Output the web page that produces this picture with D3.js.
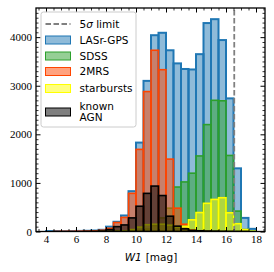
<!DOCTYPE html>
<html>
<head>
<meta charset="utf-8">
<script src="https://cdn.jsdelivr.net/npm/d3@7"></script>
<style>
  body { margin: 0; background: #fff; }
  .tick text { font-family: "Liberation Serif", serif; font-size: 11px; fill: #000; }
  .tick line { stroke: #000; }
</style>
</head>
<body>
<svg id="chart" width="274" height="272"></svg>
<script>
// === Data: W1 magnitude histograms (counts per 0.5 mag bin) ===
const binStarts = [4.0, 4.5, 5.0, 5.5, 6.0, 6.5, 7.0, 7.5, 8.0, 8.5, 9.0, 9.5, 10.0, 10.5,
                   11.0, 11.5, 12.0, 12.5, 13.0, 13.5, 14.0, 14.5, 15.0, 15.5, 16.0, 16.5, 17.0, 17.5];
const binWidth = 0.5;

const lasrGps   = [8, 10, 8, 10, 12, 15, 20, 35, 100, 200, 330, 830, 1830, 3100,
                   4040, 4090, 3730, 3460, 3345, 3335, 3650, 4290, 4370, 3940, 2740, 1300, 280, 55];
const sdss      = [0, 0, 0, 0, 0, 0, 0, 2, 5, 8, 12, 15, 25, 50,
                   120, 280, 480, 915, 1020, 1200, 1555, 2200, 2700, 2690, 1565, 420, 40, 5];
const twoMrs    = [0, 2, 3, 3, 5, 8, 12, 25, 65, 185, 290, 785, 1690, 2880,
                   3730, 3330, 1490, 480, 150, 35, 8, 3, 0, 0, 0, 0, 0, 0];
const starburst = [0, 0, 0, 0, 0, 0, 0, 2, 5, 8, 15, 40, 90, 140,
                   150, 150, 130, 90, 105, 240, 390, 580, 660, 695, 385, 160, 40, 5];
const knownAgn  = [0, 0, 0, 0, 0, 1, 3, 10, 40, 100, 135, 280, 520, 785,
                   935, 740, 315, 110, 55, 25, 15, 10, 8, 5, 3, 2, 1, 0];

const limit5sigma = 16.55;

const xTicks = [4, 6, 8, 10, 12, 14, 16, 18];
const yTicks = [0, 1000, 2000, 3000, 4000];

const series = [
    { label: ['LASr-GPS'],        values: lasrGps,   fill: 'rgba(31,119,180,0.5)', stroke: '#1f77b4', sw: 2 },
    { label: ['SDSS'],            values: sdss,      fill: 'rgba(44,160,44,0.5)',  stroke: '#2ca02c', sw: 1.6 },
    { label: ['2MRS'],            values: twoMrs,    fill: 'rgba(255,69,0,0.5)',   stroke: '#ff4500', sw: 1.6 },
    { label: ['starbursts'],      values: starburst, fill: 'rgba(255,255,0,0.5)',  stroke: '#ffff00', sw: 1.6 },
    { label: ['known', 'AGN'],    values: knownAgn,  fill: 'rgba(0,0,0,0.5)',      stroke: '#000000', sw: 1.6 },
];

// === Layout ===
const plot = { left: 36, right: 265, top: 8, bottom: 231.5 };

const svg = d3.select('#chart');

const x = d3.scaleLinear().domain([3.333, 18.6]).range([plot.left, plot.right]);
const y = d3.scaleLinear().domain([0, 4600]).range([plot.bottom, plot.top]);

svg.append('defs').append('clipPath').attr('id', 'plotClip')
    .append('rect')
    .attr('x', plot.left).attr('y', plot.top)
    .attr('width', plot.right - plot.left).attr('height', plot.bottom - plot.top);

const bars = svg.append('g').attr('clip-path', 'url(#plotClip)');

// Histogram bars, drawn series by series
series.forEach(s => {
    bars.append('g')
        .selectAll('rect')
        .data(binStarts.map((b, i) => ({ b, v: s.values[i] })))
        .join('rect')
        .attr('x', d => x(d.b))
        .attr('width', d => x(d.b + binWidth) - x(d.b))
        .attr('y', d => y(d.v))
        .attr('height', d => y(0) - y(d.v))
        .attr('fill', s.fill)
        .attr('stroke', s.stroke)
        .attr('stroke-width', s.sw);
});

// 5 sigma limit
bars.append('line')
    .attr('x1', x(limit5sigma)).attr('x2', x(limit5sigma))
    .attr('y1', y(0)).attr('y2', plot.top)
    .attr('stroke', '#808080')
    .attr('stroke-width', 1.8)
    .attr('stroke-dasharray', '5.5,2.5');

// === Axes (ticks inward on all sides) ===
const xMinor = d3.range(3.5, 18.6, 0.5).filter(v => !xTicks.includes(v));
const yMinor = d3.range(0, 4600, 100).filter(v => !yTicks.includes(v));

function cleanAxis(g) {
    g.select('.domain').remove();
}

svg.append('g').attr('transform', `translate(0,${plot.bottom})`)
    .call(d3.axisBottom(x).tickValues(xTicks).tickSize(-4.5).tickPadding(4).tickFormat(d3.format('d')))
    .call(cleanAxis)
    .call(g => g.selectAll('line').attr('stroke-width', 1));
svg.append('g').attr('transform', `translate(0,${plot.bottom})`)
    .call(d3.axisBottom(x).tickValues(xMinor).tickSize(-2.5).tickFormat(''))
    .call(cleanAxis)
    .call(g => g.selectAll('line').attr('stroke-width', 0.8));
svg.append('g').attr('transform', `translate(0,${plot.top})`)
    .call(d3.axisTop(x).tickValues(xTicks).tickSize(-4.5).tickFormat(''))
    .call(cleanAxis);
svg.append('g').attr('transform', `translate(0,${plot.top})`)
    .call(d3.axisTop(x).tickValues(xMinor).tickSize(-2.5).tickFormat(''))
    .call(cleanAxis)
    .call(g => g.selectAll('line').attr('stroke-width', 0.8));

svg.append('g').attr('transform', `translate(${plot.left},0)`)
    .call(d3.axisLeft(y).tickValues(yTicks).tickSize(-4.5).tickPadding(4).tickFormat(d3.format('d')))
    .call(cleanAxis);
svg.append('g').attr('transform', `translate(${plot.left},0)`)
    .call(d3.axisLeft(y).tickValues(yMinor).tickSize(-2.5).tickFormat(''))
    .call(cleanAxis)
    .call(g => g.selectAll('line').attr('stroke-width', 0.8));
svg.append('g').attr('transform', `translate(${plot.right},0)`)
    .call(d3.axisRight(y).tickValues(yTicks).tickSize(-4.5).tickFormat(''))
    .call(cleanAxis);
svg.append('g').attr('transform', `translate(${plot.right},0)`)
    .call(d3.axisRight(y).tickValues(yMinor).tickSize(-2.5).tickFormat(''))
    .call(cleanAxis)
    .call(g => g.selectAll('line').attr('stroke-width', 0.8));

// Frame
svg.append('rect')
    .attr('x', plot.left).attr('y', plot.top)
    .attr('width', plot.right - plot.left).attr('height', plot.bottom - plot.top)
    .attr('fill', 'none').attr('stroke', '#000').attr('stroke-width', 1.3);

// X label
const xl = svg.append('text')
    .attr('x', 151).attr('y', 261)
    .attr('text-anchor', 'middle')
    .attr('font-family', '"DejaVu Sans", sans-serif')
    .attr('font-size', 10.5);
xl.append('tspan').attr('font-style', 'italic').text('W1');
xl.append('tspan').attr('dx', 4).text('[mag]');

// === Legend ===
const lg = svg.append('g').attr('font-family', '"DejaVu Sans", sans-serif').attr('font-size', 10.5);
lg.append('rect')
    .attr('x', 41).attr('y', 12).attr('width', 95).attr('height', 115).attr('rx', 2.5)
    .attr('fill', 'rgba(255,255,255,0.8)').attr('stroke', '#cccccc').attr('stroke-width', 1);

lg.append('line')
    .attr('x1', 45.5).attr('x2', 70.5).attr('y1', 24).attr('y2', 24)
    .attr('stroke', '#808080').attr('stroke-width', 1.8).attr('stroke-dasharray', '5.5,2.5');
const t0 = lg.append('text').attr('x', 79.5).attr('y', 24).attr('dy', '0.35em');
t0.append('tspan').text('5');
t0.append('tspan').attr('font-style', 'italic').text('σ');
t0.append('tspan').text(' limit');

const legendY = [40, 56, 71.5, 88.5, 112];
series.forEach((s, i) => {
    const cy = legendY[i];
    lg.append('rect')
        .attr('x', 45.5).attr('y', cy - 4).attr('width', 25).attr('height', 8)
        .attr('fill', s.fill).attr('stroke', s.stroke).attr('stroke-width', 1);
    const lines = s.label;
    lines.forEach((t, j) => {
        lg.append('text')
            .attr('x', 79.5)
            .attr('y', cy + (j - (lines.length - 1) / 2) * 11)
            .attr('dy', '0.35em')
            .text(t);
    });
});
</script>
</body>
</html>
